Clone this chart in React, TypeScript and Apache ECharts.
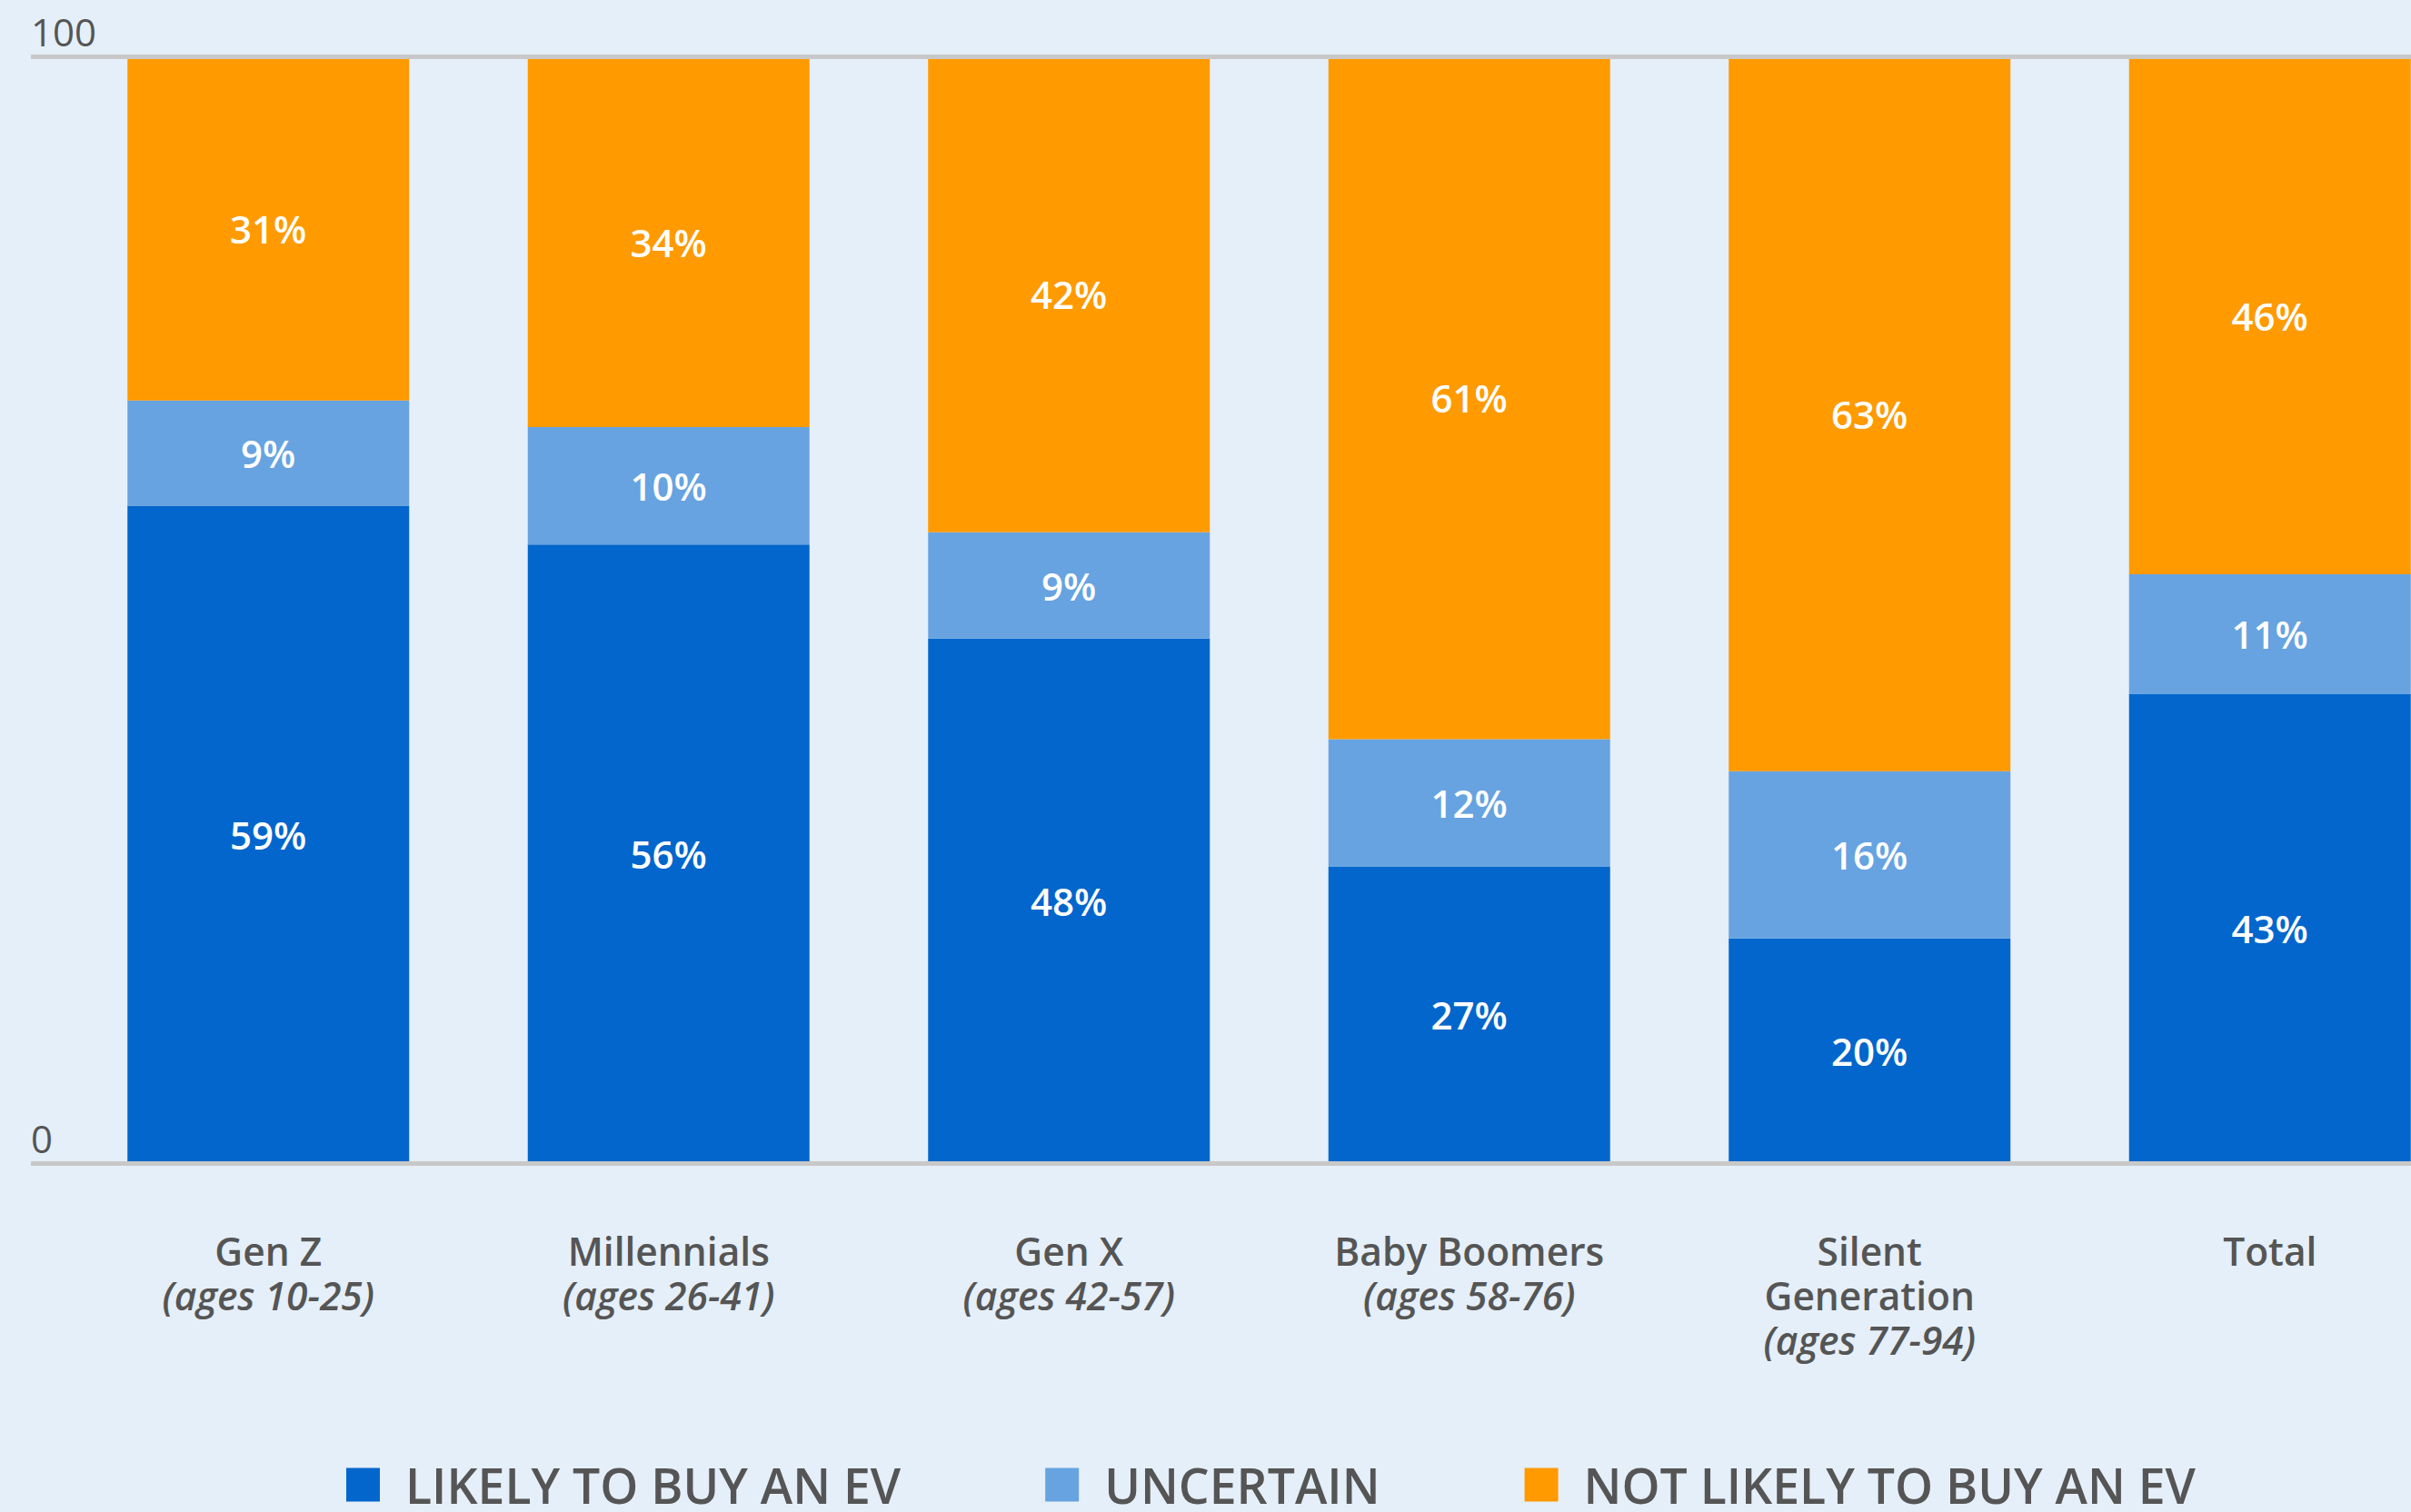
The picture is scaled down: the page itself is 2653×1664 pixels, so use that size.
import React, { useEffect, useRef } from "react";
import * as echarts from "echarts";

const categories = ["Gen Z", "Millennials", "Gen X", "Baby Boomers", "Silent\nGeneration", "Total"];
const ageRanges = ["(ages 10-25)", "(ages 26-41)", "(ages 42-57)", "(ages 58-76)", "(ages 77-94)", ""];

const seriesNames = ["LIKELY TO BUY AN EV", "UNCERTAIN", "NOT LIKELY TO BUY AN EV"];

// bar heights (share of 100)
const likelyValues = [59.4, 55.9, 47.4, 26.8, 20.3, 42.4];
const uncertainValues = [9.5, 10.6, 9.6, 11.5, 15.1, 10.8];
const notLikelyValues = [31.1, 33.5, 43.0, 61.7, 64.6, 46.8];

// printed labels
const likelyLabels = [59, 56, 48, 27, 20, 43];
const uncertainLabels = [9, 10, 9, 12, 16, 11];
const notLikelyLabels = [31, 34, 42, 61, 63, 46];

const yTicks = [0, 100];

const colors = ["#0366cc", "#67a3e0", "#ff9a00"];
const FONT = "'Open Sans', 'Noto Sans', sans-serif";

export default function App() {
  const ref = useRef<HTMLDivElement>(null);

  useEffect(() => {
    if (!ref.current) return;
    const chart = echarts.init(ref.current, undefined, { renderer: "svg" });

    const values = [likelyValues, uncertainValues, notLikelyValues];
    const labels = [likelyLabels, uncertainLabels, notLikelyLabels];

    const option: any = {
      animation: false,
      backgroundColor: "#e5eff9",
      textStyle: { fontFamily: FONT },
      grid: [
        { left: 34, right: 0, top: 62, height: 1218 },
        { left: 75, right: 0, top: 62, height: 1218 },
      ],
      legend: {
        data: seriesNames,
        icon: "rect",
        itemWidth: 37,
        itemHeight: 37,
        itemGap: 159,
        left: 376,
        top: 1602,
        textStyle: {
          fontFamily: FONT,
          fontSize: 53.5,
          fontWeight: 600,
          color: "#555555",
          padding: [0, 0, 0, 23],
        },
      },
      xAxis: [
        { gridIndex: 0, type: "value", show: false, min: 0, max: 1 },
        {
          gridIndex: 1,
          type: "category",
          data: categories,
          axisLine: { show: false },
          axisTick: { show: false },
          axisLabel: {
            margin: 72,
            interval: 0,
            formatter: (value: string, idx: number) => {
              const lines = value.split("\n").map((l) => `{n|${l}}`);
              if (ageRanges[idx]) lines.push(`{i|${ageRanges[idx]}}`);
              return lines.join("\n");
            },
            rich: {
              n: { fontFamily: FONT, fontSize: 42.5, fontWeight: 600, color: "#555555", lineHeight: 49 },
              i: {
                fontFamily: FONT,
                fontSize: 42.5,
                fontWeight: 600,
                color: "#555555",
                lineHeight: 49,
                fontStyle: "italic",
              },
            },
          },
        },
      ],
      yAxis: [
        {
          gridIndex: 0,
          type: "value",
          min: yTicks[0],
          max: yTicks[1],
          interval: 100,
          z: 3,
          axisLine: { show: false },
          axisTick: { show: false },
          splitLine: { show: true, lineStyle: { color: "#c8c8c8", width: 5 } },
          axisLabel: {
            inside: true,
            margin: 0,
            verticalAlign: "bottom",
            padding: [0, 0, 7, 0],
            fontFamily: FONT,
            fontSize: 42,
            color: "#555555",
          },
        },
        {
          gridIndex: 1,
          type: "value",
          min: 0,
          max: 100,
          show: false,
          splitLine: { show: false },
        },
      ],
      series: seriesNames.map((name, si) => ({
        name,
        type: "bar",
        stack: "total",
        xAxisIndex: 1,
        yAxisIndex: 1,
        barWidth: 310,
        itemStyle: { color: colors[si] },
        data: values[si],
        label: {
          show: true,
          position: "inside",
          color: "#ffffff",
          fontFamily: FONT,
          fontSize: 42,
          fontWeight: 600,
          formatter: (p: any) => `${labels[si][p.dataIndex]}%`,
        },
      })),
    };

    chart.setOption(option);
    return () => chart.dispose();
  }, []);

  return (
    <div
      ref={ref}
      style={{ position: "fixed", left: 0, top: 0, width: 2718, height: 1664 }}
    />
  );
}
